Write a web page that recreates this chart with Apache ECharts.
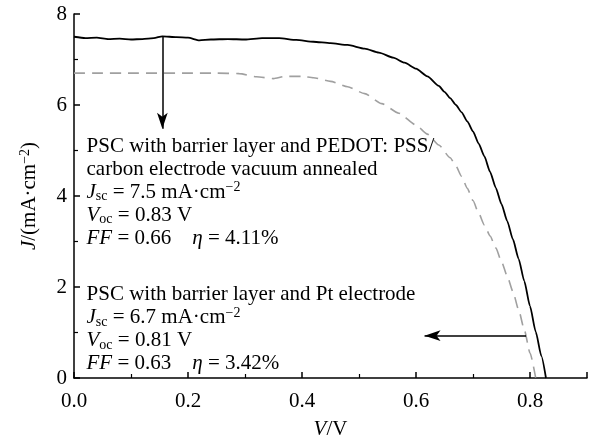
<!DOCTYPE html>
<html>
<head>
<meta charset="utf-8">
<script src="https://cdn.jsdelivr.net/npm/echarts@6/dist/echarts.min.js"></script>
<style>
  html, body { margin: 0; padding: 0; background: #fff; }
  #main { width: 590px; height: 445px; }
</style>
</head>
<body>
<div id="main"></div>
<script>
// PSC with barrier layer and PEDOT:PSS/carbon electrode, vacuum annealed (solid)
var vSolid = [0.00, 0.02, 0.04, 0.06, 0.08, 0.10, 0.12, 0.14, 0.155, 0.18, 0.20, 0.22, 0.24, 0.27, 0.30, 0.33, 0.36, 0.39, 0.42, 0.45, 0.48, 0.51, 0.535, 0.56, 0.58, 0.60, 0.62, 0.64, 0.65, 0.66, 0.67, 0.68, 0.69, 0.70, 0.71, 0.72, 0.73, 0.74, 0.75, 0.76, 0.77, 0.78, 0.79, 0.80, 0.81, 0.82, 0.828];
var jSolid = [7.50, 7.47, 7.48, 7.45, 7.46, 7.44, 7.45, 7.47, 7.51, 7.49, 7.48, 7.42, 7.44, 7.45, 7.44, 7.47, 7.47, 7.43, 7.39, 7.36, 7.32, 7.24, 7.15, 7.04, 6.93, 6.80, 6.63, 6.42, 6.29, 6.15, 6.00, 5.84, 5.64, 5.42, 5.15, 4.87, 4.53, 4.18, 3.82, 3.45, 3.05, 2.62, 2.13, 1.58, 1.02, 0.48, 0.00];
// PSC with barrier layer and Pt electrode (dashed)
var vDash = [0.00, 0.05, 0.10, 0.15, 0.20, 0.25, 0.29, 0.32, 0.35, 0.37, 0.40, 0.42, 0.45, 0.48, 0.51, 0.54, 0.57, 0.60, 0.62, 0.64, 0.66, 0.67, 0.68, 0.69, 0.70, 0.71, 0.72, 0.73, 0.74, 0.75, 0.76, 0.77, 0.78, 0.79, 0.80, 0.81];
var jDash = [6.70, 6.70, 6.70, 6.70, 6.70, 6.70, 6.69, 6.62, 6.58, 6.63, 6.63, 6.60, 6.52, 6.40, 6.25, 6.03, 5.82, 5.56, 5.36, 5.12, 4.84, 4.66, 4.43, 4.17, 3.90, 3.62, 3.36, 3.12, 2.86, 2.56, 2.24, 1.90, 1.50, 1.06, 0.55, 0.00];

var xTicks = ['0.0', '0.2', '0.4', '0.6', '0.8'];
var yTicks = ['0', '2', '4', '6', '8'];

// arrows: [start, end] in V, J
var arrow1 = [[0.155, 7.50], [0.155, 5.48]];
var arrow2 = [[0.793, 0.93], [0.615, 0.93]];

var note1 = [
  'PSC with barrier layer and PEDOT: PSS/',
  'carbon electrode vacuum annealed',
  '{i|J}{sub|sc} = 7.5 mA·cm{sup|−2}',
  '{i|V}{sub|oc} = 0.83 V',
  '{i|FF} = 0.66    {i|η} = 4.11%'
];
var note2 = [
  'PSC with barrier layer and Pt electrode',
  '{i|J}{sub|sc} = 6.7 mA·cm{sup|−2}',
  '{i|V}{sub|oc} = 0.81 V',
  '{i|FF} = 0.63    {i|η} = 3.42%'
];
var note1At = [0.022, 5.35];
var note2At = [0.022, 2.09];

var FONT = 'Liberation Serif';

function pairs(xs, ys) {
  return xs.map(function (x, i) { return [x, ys[i]]; });
}

var chart = echarts.init(document.getElementById('main'));

var rich = {
  i: { fontStyle: 'italic', fontFamily: FONT, fontSize: 21, lineHeight: 23 },
  sub: { fontFamily: FONT, fontSize: 14, lineHeight: 12, verticalAlign: 'bottom' },
  sup: { fontFamily: FONT, fontSize: 14, lineHeight: 12, verticalAlign: 'top' }
};

var option = {
  animation: false,
  backgroundColor: '#fff',
  grid: { left: 74, right: 1, top: 14, bottom: 63 },
  xAxis: {
    type: 'value',
    min: 0,
    max: 0.9,
    interval: 0.2,
    name: '{i|V}/V',
    nameLocation: 'middle',
    nameGap: 40,
    nameTextStyle: { fontFamily: FONT, fontSize: 21, color: '#000', rich: rich },
    axisLine: { lineStyle: { color: '#000', width: 1.5 } },
    axisTick: { inside: true, length: 6, lineStyle: { color: '#000', width: 1.5 } },
    minorTick: { show: true, splitNumber: 2, length: 4, lineStyle: { color: '#000', width: 1.2 } },
    splitLine: { show: false },
    axisLabel: {
      margin: 13,
      fontFamily: FONT, fontSize: 21, color: '#000',
      formatter: function (v) {
        var s = v.toFixed(1);
        return xTicks.indexOf(s) >= 0 ? s : '';
      }
    }
  },
  yAxis: {
    type: 'value',
    min: 0,
    max: 8,
    interval: 2,
    name: '{i|J}/(mA·cm{sup|−2})',
    nameLocation: 'middle',
    nameGap: 33,
    nameTextStyle: { fontFamily: FONT, fontSize: 21, color: '#000', rich: rich },
    axisLine: { show: true, lineStyle: { color: '#000', width: 1.5 } },
    axisTick: { show: true, inside: true, length: 6, lineStyle: { color: '#000', width: 1.5 } },
    minorTick: { show: true, splitNumber: 2, length: 4, lineStyle: { color: '#000', width: 1.2 } },
    splitLine: { show: false },
    axisLabel: {
      margin: 7,
      fontFamily: FONT, fontSize: 21, color: '#000',
      formatter: function (v) {
        var s = String(v);
        return yTicks.indexOf(s) >= 0 ? s : '';
      }
    }
  },
  series: [
    {
      name: 'Pt',
      type: 'line',
      data: pairs(vDash, jDash),
      showSymbol: false,
      smooth: 0.2,
      smoothMonotone: 'x',
      lineStyle: { color: '#a0a0a0', width: 1.6, type: [11, 7] },
      z: 2
    },
    {
      name: 'carbon',
      type: 'line',
      data: pairs(vSolid, jSolid),
      showSymbol: false,
      smooth: 0.2,
      smoothMonotone: 'x',
      lineStyle: { color: '#000', width: 1.8 },
      z: 3,
      markLine: {
        silent: true,
        animation: false,
        symbol: ['none', 'arrow'],
        symbolSize: [8, 16],
        label: { show: false },
        lineStyle: { color: '#000', width: 1.5, type: 'solid' },
        data: [
          [{ coord: arrow1[0] }, { coord: arrow1[1] }],
          [{ coord: arrow2[0] }, { coord: arrow2[1] }]
        ]
      }
    }
  ]
};

chart.setOption(option);

function noteText(lines, at) {
  var p = chart.convertToPixel({ gridIndex: 0 }, at);
  return {
    type: 'text',
    x: p[0],
    y: p[1],
    style: {
      text: lines.join('\n'),
      fontFamily: FONT,
      fontSize: 21,
      lineHeight: 23,
      fill: '#000',
      align: 'left',
      verticalAlign: 'top',
      rich: rich
    },
    z: 10
  };
}

chart.setOption({
  graphic: [noteText(note1, note1At), noteText(note2, note2At)]
});
</script>
</body>
</html>
